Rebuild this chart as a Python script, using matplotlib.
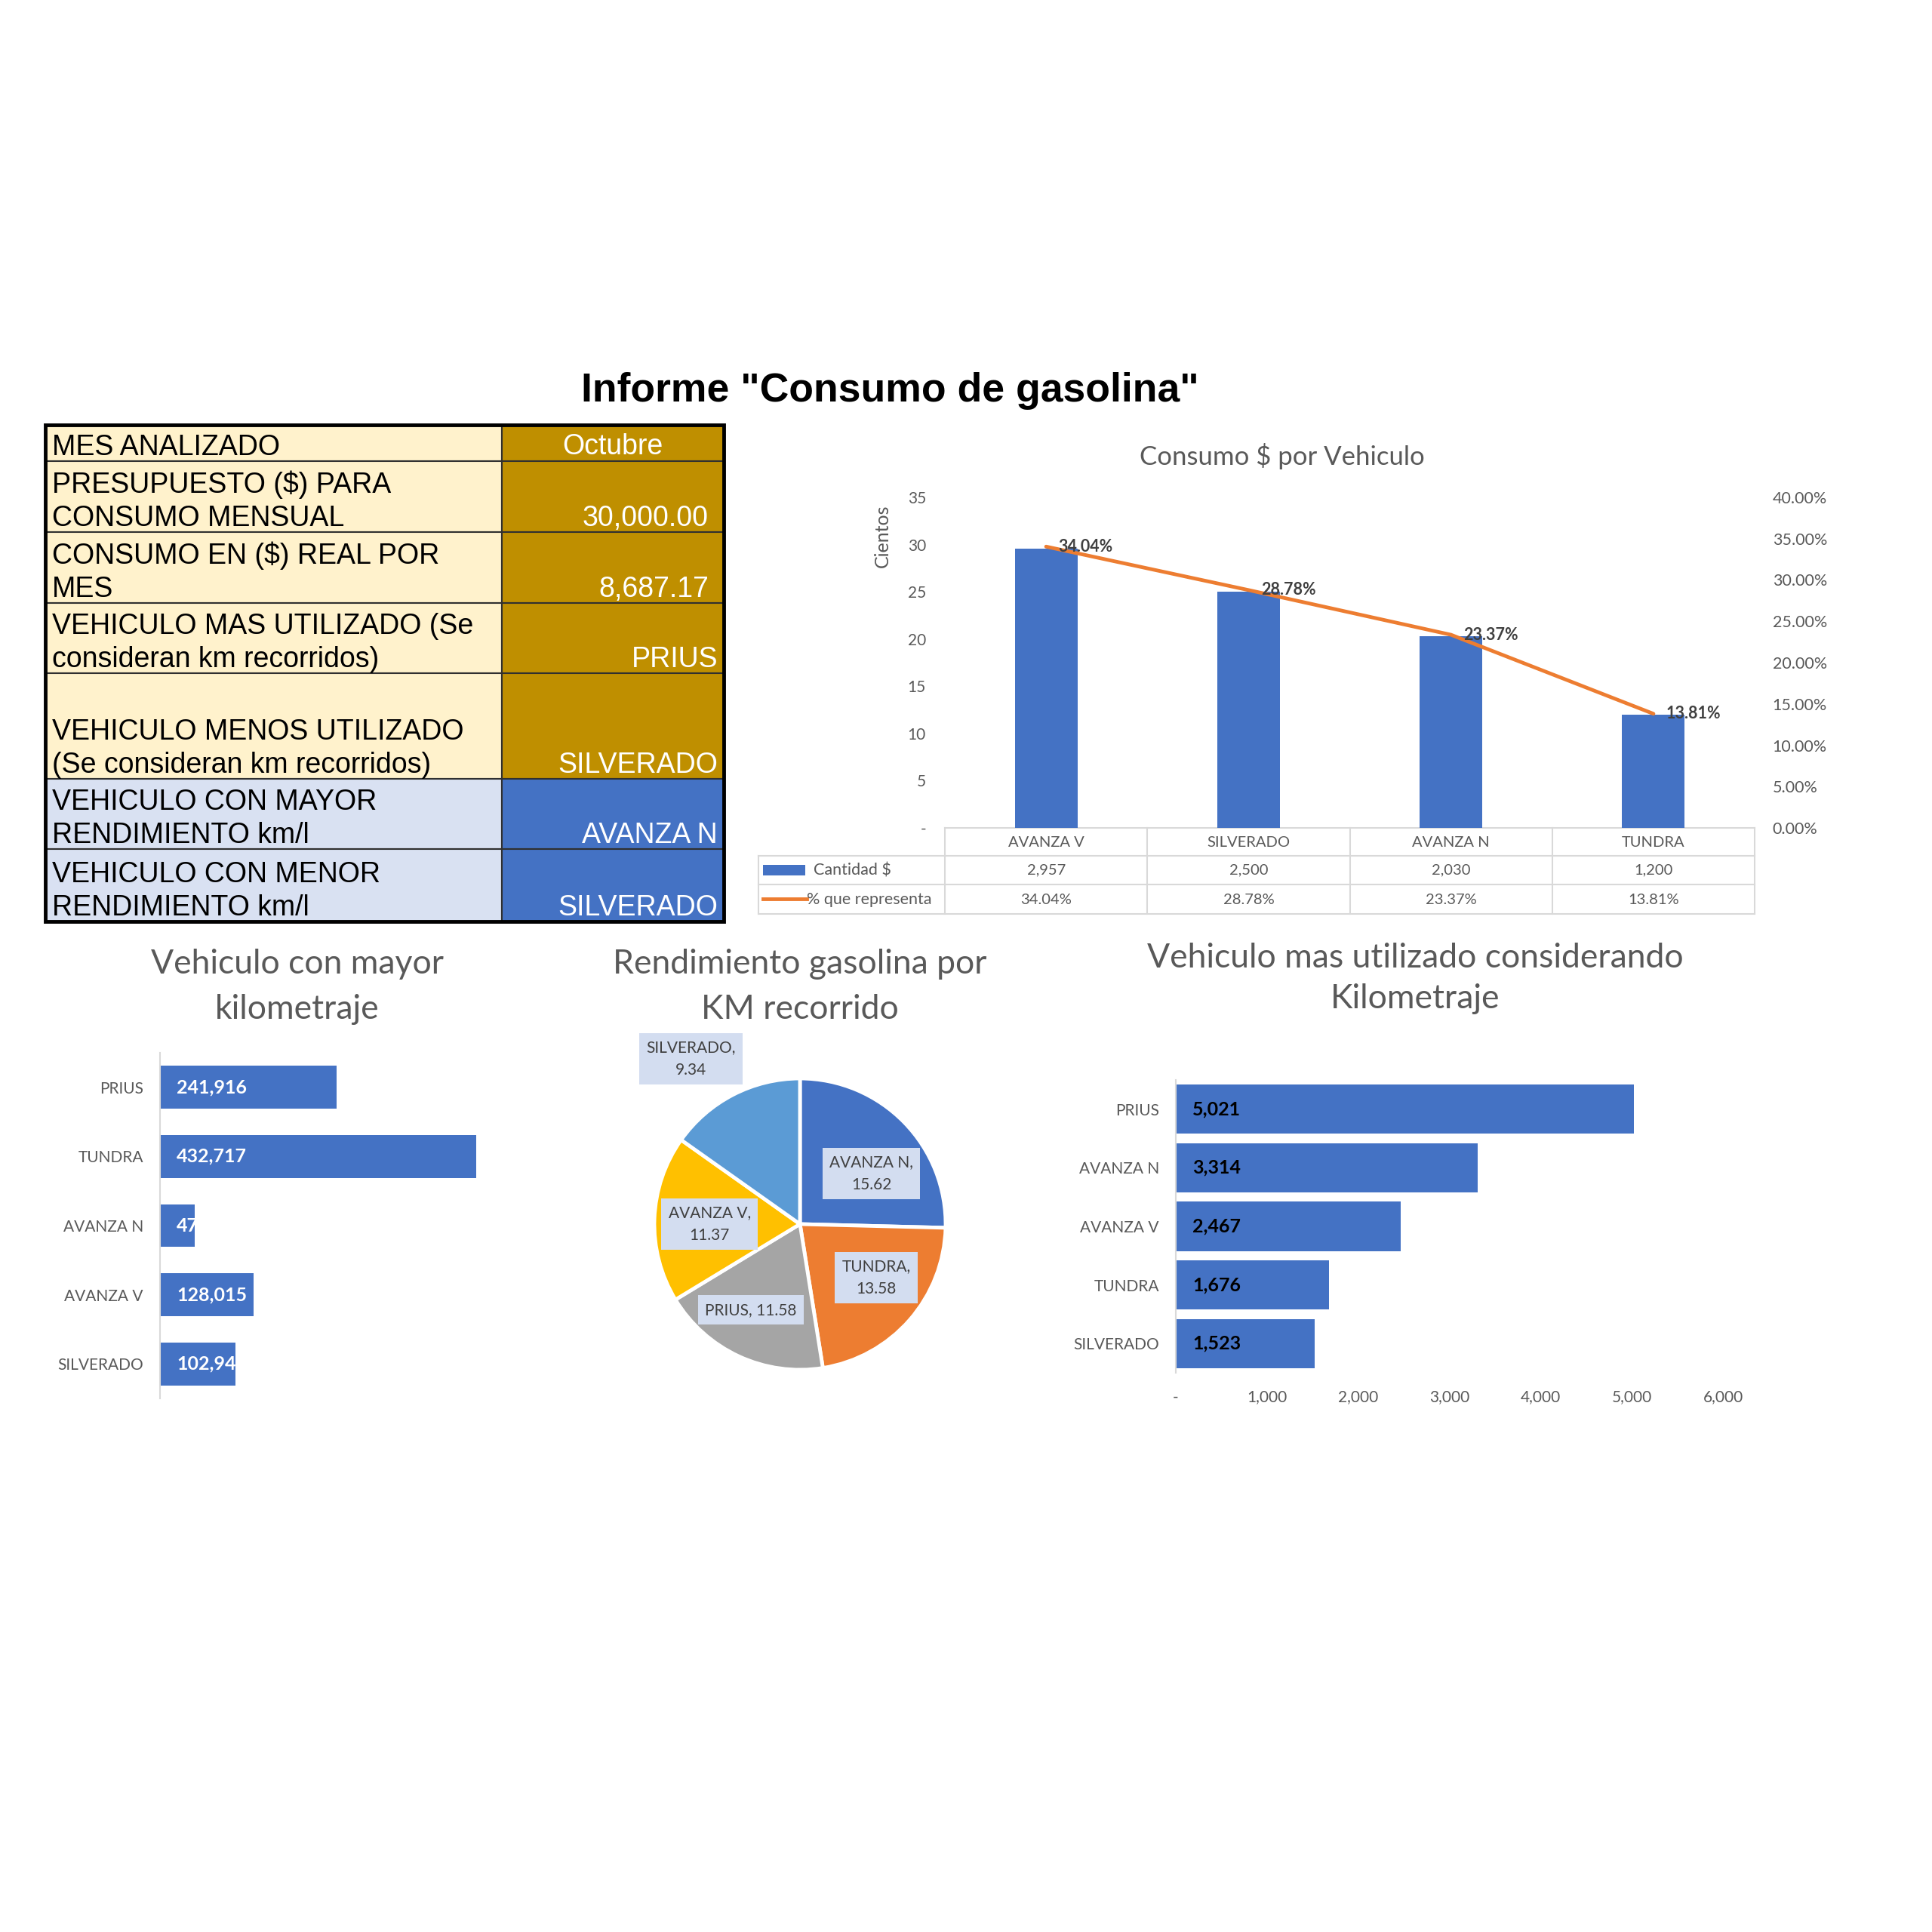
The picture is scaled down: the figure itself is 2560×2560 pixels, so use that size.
import numpy as np
import matplotlib
matplotlib.use("Agg")
import matplotlib.pyplot as plt
from matplotlib.patches import Rectangle
from matplotlib import transforms

# ---- datos del informe ----
titulo_informe = 'Informe "Consumo de gasolina"'

tabla_etiquetas = [
    "MES ANALIZADO",
    "PRESUPUESTO ($) PARA\nCONSUMO MENSUAL",
    "CONSUMO EN ($) REAL POR\nMES",
    "VEHICULO MAS UTILIZADO (Se\nconsideran km recorridos)",
    "VEHICULO MENOS UTILIZADO\n(Se consideran km recorridos)",
    "VEHICULO CON MAYOR\nRENDIMIENTO km/l",
    "VEHICULO CON MENOR\nRENDIMIENTO km/l",
]
tabla_valores = ["Octubre", "30,000.00", "8,687.17", "PRIUS",
                 "SILVERADO", "AVANZA N", "SILVERADO"]

consumo_titulo = "Consumo $ por Vehiculo"
consumo_vehiculos = ["AVANZA V", "SILVERADO", "AVANZA N", "TUNDRA"]
consumo_cantidad = [2957, 2500, 2030, 1200]
consumo_porcentaje = [34.04, 28.78, 23.37, 13.81]
serie_cantidad = "Cantidad $"
serie_porcentaje = "% que representa"
unidad_eje = "Cientos"

km_titulo = ["Vehiculo con mayor", "kilometraje"]
km_vehiculos = ["PRIUS", "TUNDRA", "AVANZA N", "AVANZA V", "SILVERADO"]
km_valores = [241916, 432717, 47350, 128015, 102945]

rend_titulo = ["Rendimiento gasolina por", "KM recorrido"]
rend_vehiculos = ["AVANZA N", "TUNDRA", "PRIUS", "AVANZA V", "SILVERADO"]
rend_valores = [15.62, 13.58, 11.58, 11.37, 9.34]

uso_titulo = ["Vehiculo mas utilizado considerando", "Kilometraje"]
uso_vehiculos = ["PRIUS", "AVANZA N", "AVANZA V", "TUNDRA", "SILVERADO"]
uso_valores = [5021, 3314, 2467, 1676, 1523]
uso_ticks = [0, 1000, 2000, 3000, 4000, 5000, 6000]

# ---- estilo ----
W = 2560
ARIAL = ["Liberation Sans", "DejaVu Sans"]
CALIBRI = ["Lato", "DejaVu Sans"]
AZUL = "#4472C4"
NARANJA = "#ED7D31"
GRIS_TXT = "#595959"
GRIS_LINEA = "#D9D9D9"
plt.rcParams["font.family"] = CALIBRI


def box(left, top, right, bottom):
    """Pixel box (from top-left) -> figure fraction rect."""
    return [left / W, 1 - bottom / W, (right - left) / W, (bottom - top) / W]


fig = plt.figure(figsize=(25.6, 25.6), dpi=100)
canvas = fig.add_axes([0, 0, 1, 1])
canvas.set_xlim(0, W)
canvas.set_ylim(W, 0)
canvas.set_autoscale_on(False)
canvas.axis("off")

# titulo general
canvas.text(1179, 518, titulo_informe, ha="center", va="center",
            fontsize=38.5, fontweight="bold", family=ARIAL, color="black")

# ---- tabla resumen ----
row_edges = [563, 611, 705, 799, 892, 1032, 1125, 1221]
x0, xm, x1 = 60, 665, 959
for i, (lab, val) in enumerate(zip(tabla_etiquetas, tabla_valores)):
    top, bot = row_edges[i], row_edges[i + 1]
    light = "#FFF2CC" if i < 5 else "#D9E1F2"
    dark = "#BF8F00" if i < 5 else AZUL
    canvas.add_patch(Rectangle((x0, top), xm - x0, bot - top,
                               fc=light, ec="#303030", lw=1.5))
    canvas.add_patch(Rectangle((xm, top), x1 - xm, bot - top,
                               fc=dark, ec="#303030", lw=1.5))
    for k, line in enumerate(reversed(lab.split("\n"))):
        canvas.text(x0 + 9, bot - 8 - k * 44, line, ha="left", va="baseline",
                    fontsize=27, family=ARIAL, color="black")
    if i == 0:
        canvas.text((xm + x1) / 2, bot - 9, val, ha="center", va="baseline",
                    fontsize=27, family=ARIAL, color="white")
    else:
        pad = 20 if val[0].isdigit() else 8
        canvas.text(x1 - pad, bot - 8, val, ha="right", va="baseline",
                    fontsize=27, family=ARIAL, color="white")
canvas.add_patch(Rectangle((x0, row_edges[0]), x1 - x0,
                           row_edges[-1] - row_edges[0],
                           fc="none", ec="black", lw=3.5))

# ---- Consumo $ por Vehiculo ----
ax1 = fig.add_axes(box(1252, 659, 2325, 1097))
ax1.patch.set_visible(False)
xc = np.arange(len(consumo_vehiculos))
ax1.bar(xc, np.array(consumo_cantidad) / 100, width=0.31, color=AZUL)
ax1.set_xlim(-0.5, len(consumo_vehiculos) - 0.5)
ax1.set_ylim(0, 35)
ax1.set_yticks(np.arange(0, 36, 5))
ax1.set_yticklabels(["-"] + [str(v) for v in range(5, 36, 5)])
ax1.set_xticks([])
ax1.tick_params(axis="y", length=0, pad=18, labelsize=15, labelcolor=GRIS_TXT)
for s in ax1.spines.values():
    s.set_visible(False)

ax1b = ax1.twinx()
ax1b.plot(xc, consumo_porcentaje, color=NARANJA, lw=3.5, solid_capstyle="round")
ax1b.set_ylim(0, 40)
ax1b.set_yticks(np.arange(0, 41, 5))
ax1b.set_yticklabels([f"{v:.2f}%" for v in range(0, 41, 5)])
ax1b.tick_params(axis="y", length=0, pad=17, labelsize=15.5, labelcolor=GRIS_TXT)
for s in ax1b.spines.values():
    s.set_visible(False)
for xi, p in zip(xc, consumo_porcentaje):
    ax1b.annotate(f"{p:.2f}%", (xi, p), xytext=(12, 0), textcoords="offset points",
                  ha="left", va="center", fontsize=15.5, fontweight="bold",
                  color="#404040")

canvas.text(1699, 605, consumo_titulo, ha="center", va="center",
            fontsize=25, color=GRIS_TXT)
canvas.text(1169, 710, unidad_eje, ha="center", va="center", rotation=90,
            fontsize=18, color=GRIS_TXT)

# tabla de datos bajo el grafico
bt = transforms.blended_transform_factory(ax1.transData, canvas.transData)
row_y = [1097, 1134, 1172, 1211]
nc = len(consumo_vehiculos)
canvas.plot([-0.5, nc - 0.5], [row_y[0]] * 2, color=GRIS_LINEA, lw=1.5, transform=bt)
for yy in row_y[1:]:
    canvas.plot([1005, 1252], [yy, yy], color=GRIS_LINEA, lw=1.5)
    canvas.plot([-0.5, nc - 0.5], [yy, yy], color=GRIS_LINEA, lw=1.5, transform=bt)
canvas.plot([1005, 1005], [row_y[1], row_y[3]], color=GRIS_LINEA, lw=1.5)
for k in range(nc + 1):
    canvas.plot([k - 0.5, k - 0.5], [row_y[0], row_y[3]], color=GRIS_LINEA,
                lw=1.5, transform=bt)
for i in range(nc):
    canvas.text(i, 1116, consumo_vehiculos[i], transform=bt, ha="center",
                va="center", fontsize=14.5, color=GRIS_TXT)
    canvas.text(i, 1153, f"{consumo_cantidad[i]:,}", transform=bt, ha="center",
                va="center", fontsize=14.5, color=GRIS_TXT)
    canvas.text(i, 1192, f"{consumo_porcentaje[i]:.2f}%", transform=bt,
                ha="center", va="center", fontsize=14.5, color=GRIS_TXT)
canvas.add_patch(Rectangle((1011, 1146), 56, 14, fc=AZUL, ec="none"))
canvas.text(1078, 1153, serie_cantidad, ha="left", va="center", fontsize=15.5,
            color=GRIS_TXT)
canvas.plot([1011, 1069], [1191, 1191], color=NARANJA, lw=3.5)
canvas.text(1069, 1192, serie_porcentaje, ha="left", va="center", fontsize=15.5,
            color=GRIS_TXT)


def title_lines(x, ys, lines):
    for yy, line in zip(ys, lines):
        canvas.text(x, yy, line, ha="center", va="center", fontsize=32,
                    color=GRIS_TXT)


# ---- Vehiculo con mayor kilometraje ----
ax2 = fig.add_axes(box(212, 1395, 696, 1853))
ax2.patch.set_visible(False)
yk = np.arange(len(km_vehiculos))
bars = ax2.barh(yk, km_valores, height=0.62, color=AZUL)
ax2.set_xlim(0, 500000)
ax2.set_ylim(len(km_vehiculos) - 0.5, -0.5)
ax2.set_yticks(yk)
ax2.set_yticklabels(km_vehiculos)
ax2.set_xticks([])
ax2.tick_params(axis="y", length=0, pad=16, labelsize=15, labelcolor=GRIS_TXT)
for name, s in ax2.spines.items():
    s.set_visible(name == "left")
ax2.spines["left"].set_color(GRIS_LINEA)
ax2.spines["left"].set_linewidth(1.5)
for bar, yi, v in zip(bars, yk, km_valores):
    t = ax2.annotate(f"{v:,}", (0, yi), xytext=(16, 0), textcoords="offset points",
                     ha="left", va="center", fontsize=18, fontweight="bold",
                     color="white")
    t.set_clip_path(bar)
title_lines(394, [1278, 1337], km_titulo)

# ---- Rendimiento gasolina por KM recorrido ----
cx, cy, r = 1060, 1622, 193
axp = fig.add_axes(box(cx - r, cy - r, cx + r, cy + r))
pie_colors = [AZUL, NARANJA, "#A5A5A5", "#FFC000", "#5B9BD5"]
wedges, _ = axp.pie(rend_valores, colors=pie_colors, startangle=90,
                    counterclock=False,
                    wedgeprops=dict(edgecolor="white", linewidth=3.5))
axp.set_xlim(-1, 1)
axp.set_ylim(-1, 1)
# posicion de etiquetas: radio relativo y giro respecto al centro de la porcion
label_dist = [0.60, 0.64, 0.68, 0.62, 1.36]
label_turn = [-9, 6, -5, 2, 6]
for w, name, v, d, dt in zip(wedges, rend_vehiculos, rend_valores,
                             label_dist, label_turn):
    ang = np.deg2rad((w.theta1 + w.theta2) / 2 + dt)
    sep = " " if name == "PRIUS" else "\n"
    axp.text(d * np.cos(ang), d * np.sin(ang), f"{name},{sep}{v:.2f}",
             ha="center", va="center", fontsize=15, color="#404040",
             linespacing=1.6,
             bbox=dict(boxstyle="square,pad=0.45", fc="#D3DDF0", ec="none"))
title_lines(1060, [1278, 1337], rend_titulo)

# ---- Vehiculo mas utilizado considerando Kilometraje ----
ax4 = fig.add_axes(box(1558, 1431, 2283, 1819))
ax4.patch.set_visible(False)
yu = np.arange(len(uso_vehiculos))
ax4.barh(yu, uso_valores, height=0.84, color=AZUL)
ax4.set_xlim(0, 6000)
ax4.set_ylim(len(uso_vehiculos) - 0.5, -0.5)
ax4.set_yticks(yu)
ax4.set_yticklabels(uso_vehiculos)
ax4.set_xticks(uso_ticks)
ax4.set_xticklabels(["-"] + [f"{v:,}" for v in uso_ticks[1:]])
ax4.tick_params(axis="y", length=0, pad=16, labelsize=15, labelcolor=GRIS_TXT)
ax4.tick_params(axis="x", length=0, pad=16, labelsize=15, labelcolor=GRIS_TXT)
for name, s in ax4.spines.items():
    s.set_visible(name == "left")
ax4.spines["left"].set_color(GRIS_LINEA)
ax4.spines["left"].set_linewidth(1.5)
for yi, v in zip(yu, uso_valores):
    ax4.annotate(f"{v:,}", (0, yi), xytext=(16, 0), textcoords="offset points",
                 ha="left", va="center", fontsize=18, fontweight="bold",
                 color="black")
title_lines(1875, [1269, 1324], uso_titulo)

fig.savefig("out.png", dpi=100, facecolor="white")
